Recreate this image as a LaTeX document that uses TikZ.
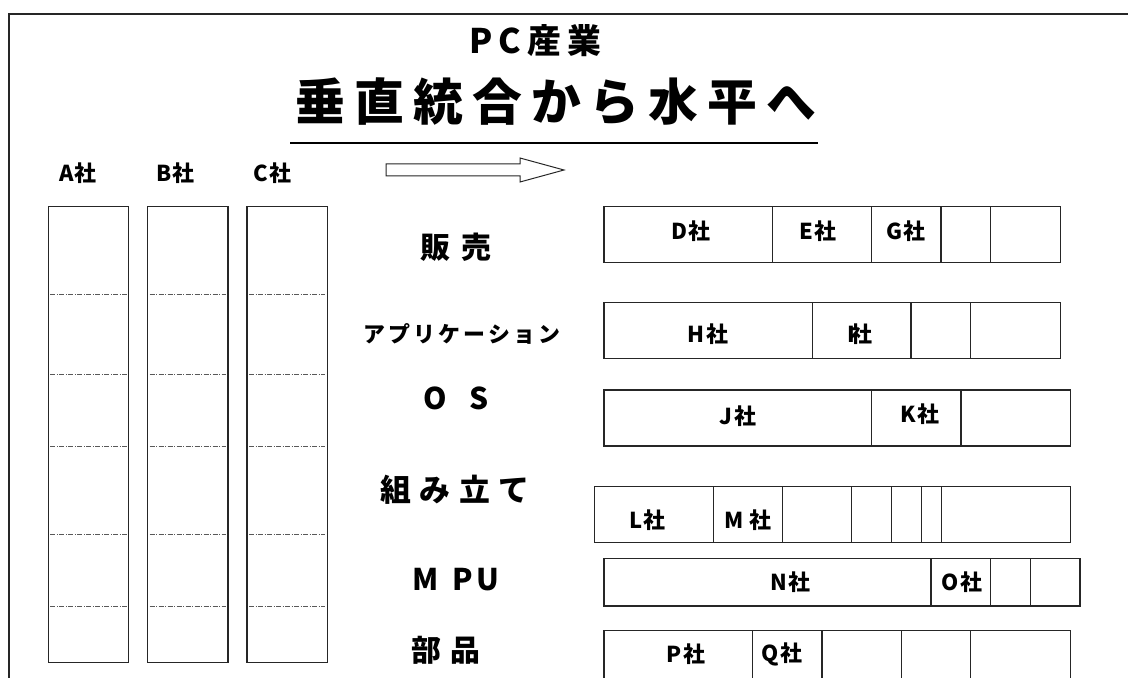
\documentclass[tikz,border=0pt]{standalone}
\usepackage{fontspec}
\setmainfont{Noto Sans CJK JP}
\newcommand\mkcell[5]{\node[cell, minimum width={#3bp-#2bp}, minimum height={#5bp-#4bp}] (#1) at ({(#2+#3)/2},{(#4+#5)/2}) {};}
\begin{document}
\begin{tikzpicture}[x=1bp,y=-1bp,
  cell/.style={draw=black!85, line width=1.2bp, inner sep=0pt, outer sep=0pt, rectangle},
  divl/.style={draw=black!65, line width=0.7bp, dash pattern=on 5bp off 1.5bp on 1bp off 1.5bp},
  co/.style={inner sep=0pt, font=\bfseries\fontsize{22}{26}\selectfont\addfontfeature{LetterSpace=6}},
  cat/.style={inner sep=0pt, font=\bfseries\fontsize{30}{36}\selectfont\addfontfeature{LetterSpace=#1}},
  cat/.default=30,
]
\useasboundingbox (0,0) rectangle (1128,678);
\clip (0,0) rectangle (1128,678);
\fill[white] (0,0) rectangle (1128,678);
% frame
\coordinate (fbl) at (9,690);
\coordinate (ftl) at (9,14);
\coordinate (ftr) at (1140,14);
\draw[line width=1.3bp, black!85] (fbl) -- (ftl) -- (ftr);
% titles
\node[inner sep=0pt, font=\bfseries\fontsize{34}{40}\selectfont\addfontfeature{LetterSpace=18}] (t1) at (535,41) {PC産業};
\node[inner sep=0pt, font=\bfseries\fontsize{50}{60}\selectfont\addfontfeature{LetterSpace=18}] (t2) at (556,102) {垂直統合から水平へ};
\coordinate (ul1) at (290,143);
\coordinate (ul2) at (818,143);
\draw[line width=2.5bp] (ul1) -- (ul2);
% arrow
\draw[line width=1bp, black!85] (386,164) -- (520,164) -- (520,158) -- (564,170) -- (520,182) -- (520,176) -- (386,176) -- cycle;
% company columns
\node[co] (la) at (78,173) {A社};
\node[co] (lb) at (175.5,173) {B社};
\node[co] (lc) at (272.5,173) {C社};
\mkcell{ca}{48.3}{128.7}{206.7}{662.7}
\mkcell{cb}{147.7}{228}{206.7}{662.7}
\mkcell{cc}{247}{327.3}{206.7}{662.7}
\foreach \c in {ca,cb,cc}{
  \foreach \y in {294,374.3,446.3,534.3,606.7}{
    \draw[divl] ([xshift=2bp]\c.west |- 0,\y) -- ([xshift=-2bp]\c.east |- 0,\y);
  }
}
% categories
\node[cat=40] (k1) at (456,247) {販売};
\node[cat=14, font=\bfseries\fontsize{22}{26}\selectfont\addfontfeature{LetterSpace=14}] (k2) at (462,334) {アプリケーション};
\node[cat=0] (k3) at (456,398) {O\hspace{22bp}S};
\node[cat=28, font=\bfseries\fontsize{31}{36}\selectfont\addfontfeature{LetterSpace=28}] (k4) at (455,490) {組み立て};
\node[cat=10] (k5) at (456,580) {M\hspace{14bp}PU};
\node[cat=33] (k6) at (446,650) {部品};
% row 1
\mkcell{r1a}{604}{772.7}{206.5}{262.5}
\mkcell{r1b}{772.7}{871.3}{206.5}{262.5}
\mkcell{r1c}{871.3}{941}{206.5}{262.5}
\mkcell{r1d}{941}{990.7}{206.5}{262.5}
\mkcell{r1e}{990.7}{1060.7}{206.5}{262.5}
\node[co] (d) at (691,231) {D社};
\node[co] (e) at (818,231) {E社};
\node[co] (g) at (906,231) {G社};
% row 2
\mkcell{r2a}{604}{812.7}{302.7}{358.7}
\mkcell{r2b}{812.7}{911}{302.7}{358.7}
\mkcell{r2c}{911}{970.3}{302.7}{358.7}
\mkcell{r2d}{970.3}{1060.7}{302.7}{358.7}
\node[co] (h) at (708,334) {H社};
\node[co] (i) at (860,334) {I\hspace{-0.2em}社};
% row 3
\mkcell{r3a}{604}{871.3}{390}{446}
\mkcell{r3b}{871.3}{961}{390}{446}
\mkcell{r3c}{961}{1070.7}{390}{446}
\node[co] (j) at (738,416) {J社};
\node[co] (k) at (920,414) {K社};
% row 4
\mkcell{r4a}{594.3}{713.3}{486.7}{542.3}
\mkcell{r4b}{713.3}{782.3}{486.7}{542.3}
\mkcell{r4c}{782.3}{851.7}{486.7}{542.3}
\mkcell{r4d}{851.7}{891.3}{486.7}{542.3}
\mkcell{r4e}{891.3}{921.7}{486.7}{542.3}
\mkcell{r4f}{921.7}{941.3}{486.7}{542.3}
\mkcell{r4g}{941.3}{1070.7}{486.7}{542.3}
\node[co] (l) at (647.5,520) {L社};
\node[co] (m) at (748,520) {M 社};
% row 5
\mkcell{r5a}{604}{931}{558.3}{606}
\mkcell{r5b}{931}{990.3}{558.3}{606}
\mkcell{r5c}{990.3}{1030.3}{558.3}{606}
\mkcell{r5d}{1030.3}{1080}{558.3}{606}
\node[co] (n) at (790,582.5) {N社};
\node[co] (o) at (962,582) {O社};
% row 6
\mkcell{r6a}{604}{752.7}{630.7}{700}
\mkcell{r6b}{752.7}{822}{630.7}{700}
\mkcell{r6c}{822}{901.7}{630.7}{700}
\mkcell{r6d}{901.7}{970.3}{630.7}{700}
\mkcell{r6e}{970.3}{1070.7}{630.7}{700}
\node[co] (p) at (686,654) {P社};
\node[co] (q) at (782,654) {Q社};
\end{tikzpicture}
\end{document}
